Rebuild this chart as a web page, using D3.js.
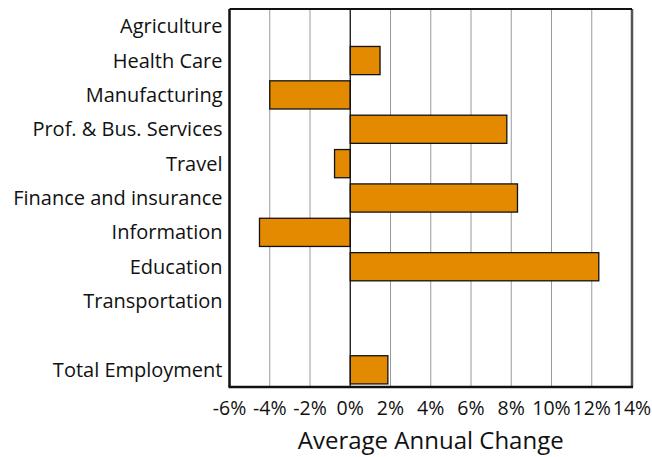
<!DOCTYPE html>
<html>
<head>
<meta charset="utf-8">
<script src="https://cdn.jsdelivr.net/npm/d3@7"></script>
<style>
  body { margin: 0; background: #ffffff; }
  text { font-family: "Open Sans", "Lato", sans-serif; fill: #111; }
</style>
</head>
<body>
<div id="chart"></div>
<script>
/* DATA */
const sectors = ["Agriculture", "Health Care", "Manufacturing", "Prof. & Bus. Services", "Travel",
  "Finance and insurance", "Information", "Education", "Transportation", "", "Total Employment"];
const changes = [0.0, 1.48, -4.0, 7.78, -0.78, 8.31, -4.51, 12.35, 0.0, null, 1.87];
const tickValues = [-6, -4, -2, 0, 2, 4, 6, 8, 10, 12, 14];

/* CONSTANTS */
const width = 652,
  height = 457,
  margin = { top: 9, right: 20, bottom: 70, left: 229.5 };

const data = sectors.map((s, i) => ({ sector: s, key: "k" + i, value: changes[i] }));

/* SCALES */
const xScale = d3.scaleLinear()
  .domain([-6, 14])
  .range([margin.left, width - margin.right]);

const yScale = d3.scaleBand()
  .domain(data.map(d => d.key))
  .range([margin.top, height - margin.bottom])
  .paddingInner(0.18)
  .paddingOuter(0.09);

/* SVG */
const svg = d3.select("#chart")
  .append("svg")
  .attr("width", width)
  .attr("height", height);

// gridlines
svg.append("g")
  .selectAll("line")
  .data(tickValues.filter(t => t !== 0 && t !== -6 && t !== 14))
  .join("line")
  .attr("x1", d => xScale(d))
  .attr("x2", d => xScale(d))
  .attr("y1", margin.top)
  .attr("y2", height - margin.bottom)
  .attr("stroke", "#9a9a9a")
  .attr("stroke-width", 1);

// bars
svg.append("g")
  .selectAll("rect")
  .data(data.filter(d => d.value !== null && d.value !== 0))
  .join("rect")
  .attr("x", d => xScale(Math.min(0, d.value)))
  .attr("width", d => Math.abs(xScale(d.value) - xScale(0)))
  .attr("y", d => yScale(d.key))
  .attr("height", yScale.bandwidth())
  .attr("fill", "#e38a00")
  .attr("stroke", "#111")
  .attr("stroke-width", 1.3);

// zero line
svg.append("line")
  .attr("x1", xScale(0))
  .attr("x2", xScale(0))
  .attr("y1", margin.top)
  .attr("y2", height - margin.bottom)
  .attr("stroke", "#111")
  .attr("stroke-width", 1.3);

// frame
const x0 = xScale(-6), x1 = xScale(14), y0 = margin.top, y1 = height - margin.bottom;
svg.append("line").attr("x1", x1).attr("x2", x1).attr("y1", y0).attr("y2", y1)
  .attr("stroke", "#555").attr("stroke-width", 2.5);
svg.append("line").attr("x1", x0).attr("x2", x1).attr("y1", y0).attr("y2", y0)
  .attr("stroke", "#111").attr("stroke-width", 2);
svg.append("line").attr("x1", x0).attr("x2", x0).attr("y1", y0).attr("y2", y1)
  .attr("stroke", "#111").attr("stroke-width", 2.5);
svg.append("line").attr("x1", x0 - 1).attr("x2", x1 + 1).attr("y1", y1).attr("y2", y1)
  .attr("stroke", "#111").attr("stroke-width", 2.5);

// category labels
svg.append("g")
  .selectAll("text")
  .data(data)
  .join("text")
  .attr("x", margin.left - 7)
  .attr("y", d => yScale(d.key) + yScale.bandwidth() / 2)
  .attr("dy", "0.35em")
  .attr("text-anchor", "end")
  .style("font-size", "20px")
  .text(d => d.sector);

// x tick labels
svg.append("g")
  .selectAll("text")
  .data(tickValues)
  .join("text")
  .attr("x", d => xScale(d))
  .attr("y", y1 + 21)
  .attr("dy", "0.35em")
  .attr("text-anchor", "middle")
  .style("font-size", "19.5px")
  .text(d => d + "%");

// axis title
svg.append("text")
  .attr("x", (x0 + x1) / 2)
  .attr("y", height - 8)
  .attr("text-anchor", "middle")
  .style("font-size", "24px")
  .text("Average Annual Change");
</script>
</body>
</html>
